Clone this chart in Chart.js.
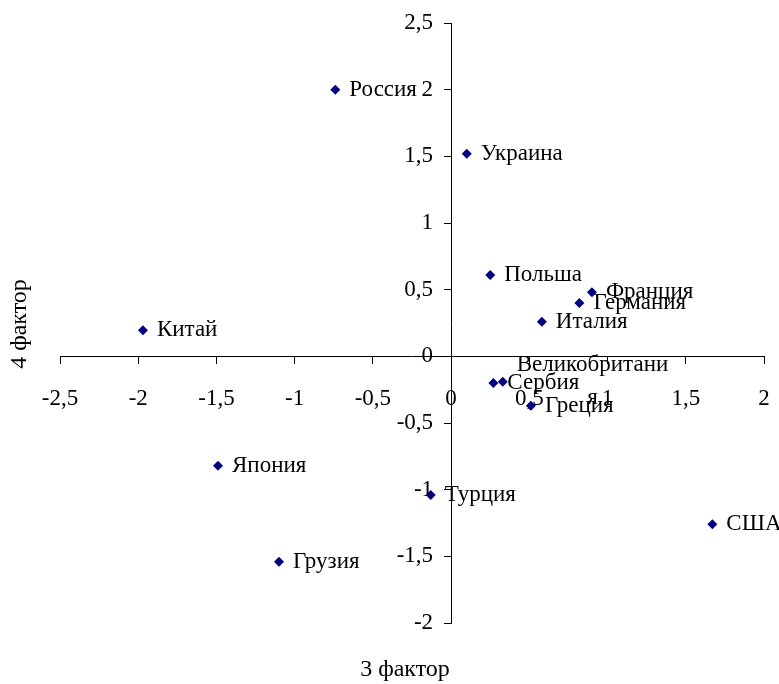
<!DOCTYPE html>
<html>
<head>
<meta charset="utf-8">
<script src="https://cdn.jsdelivr.net/npm/chart.js@4"></script>
<style>
  html, body { margin: 0; padding: 0; background: #fff; }
  #wrap { width: 779px; height: 684px; position: relative; }
</style>
</head>
<body>
<div id="wrap"><canvas id="factorChart"></canvas></div>
<script>
    // countries and their scores on factors 3 and 4
    var countries = ['Россия', 'Украина', 'Польша', 'Франция', 'Германия', 'Италия', 'Китай',
        'Великобритани\nя', 'Сербия', 'Греция', 'Япония', 'Турция', 'США', 'Грузия'];
    var factor3 = [-0.74, 0.10, 0.25, 0.90, 0.82, 0.58, -1.97, 0.33, 0.27, 0.51, -1.49, -0.13, 1.67, -1.10];
    var factor4 = [2.00, 1.52, 0.61, 0.48, 0.40, 0.26, 0.195, -0.19, -0.20, -0.37, -0.82, -1.04, -1.26, -1.54];

    var xTicks = [-2.5, -2, -1.5, -1, -0.5, 0, 0.5, 1, 1.5, 2];
    var yTicks = [-2, -1.5, -1, -0.5, 0, 0.5, 1, 1.5, 2, 2.5];

    var serif = '"Liberation Serif", "Times New Roman", serif';

    function commaLabel(v) {
        return String(v).replace('.', ',');
    }

    var points = factor3.map(function (x, i) {
        return { x: x, y: factor4[i] };
    });

    // country names written to the right of each marker
    var pointNames = {
        id: 'pointNames',
        afterDatasetsDraw: function (chart) {
            var ctx = chart.ctx;
            var meta = chart.getDatasetMeta(0);
            ctx.save();
            ctx.font = '23px ' + serif;
            ctx.fillStyle = '#000';
            ctx.textBaseline = 'middle';
            ctx.textAlign = 'center';
            meta.data.forEach(function (pt, i) {
                var lines = countries[i].split('\n');
                var w = Math.max.apply(null, lines.map(function (l) { return ctx.measureText(l).width; }));
                var lh = 33;
                var top = pt.y - (lines.length - 1) * lh / 2;
                lines.forEach(function (l, j) {
                    ctx.fillText(l, pt.x + 14 + w / 2, top + j * lh);
                });
            });
            ctx.restore();
        }
    };

    // y tick labels sit left of the crossing axis, clear of the tick marks
    var yTickLabels = {
        id: 'yTickLabels',
        afterDraw: function (chart) {
            var ctx = chart.ctx;
            var xs = chart.scales.x, ys = chart.scales.y;
            var x0 = xs.getPixelForValue(0);
            ctx.save();
            ctx.font = '23px ' + serif;
            ctx.fillStyle = '#000';
            ctx.textAlign = 'right';
            ctx.textBaseline = 'middle';
            ys.ticks.forEach(function (t) {
                ctx.fillText(commaLabel(t.value), x0 - 18, ys.getPixelForValue(t.value));
            });
            ctx.restore();
        }
    };

    // axis titles
    var axisTitles = {
        id: 'axisTitles',
        afterDraw: function (chart) {
            var ctx = chart.ctx;
            ctx.save();
            ctx.font = '24px ' + serif;
            ctx.fillStyle = '#000';
            ctx.textAlign = 'center';
            ctx.textBaseline = 'middle';
            ctx.fillText('3 фактор', 405, 670);
            ctx.translate(20, 324);
            ctx.rotate(-Math.PI / 2);
            ctx.fillText('4 фактор', 0, 0);
            ctx.restore();
        }
    };

    var ctx = document.getElementById('factorChart').getContext('2d');
    var factorChart = new Chart(ctx, {
        type: 'scatter',
        data: {
            datasets: [{
                data: points,
                pointStyle: 'rectRot',
                pointRadius: 5,
                pointHoverRadius: 5,
                backgroundColor: '#000080',
                borderColor: '#000080',
                borderWidth: 0
            }]
        },
        options: {
            responsive: true,
            maintainAspectRatio: false,
            animation: false,
            events: [],
            layout: {
                padding: { left: 60, right: 15, top: 23, bottom: 61 }
            },
            plugins: {
                legend: { display: false },
                tooltip: { enabled: false }
            },
            scales: {
                x: {
                    type: 'linear',
                    min: -2.5,
                    max: 2,
                    position: { y: 0 },
                    afterBuildTicks: function (scale) {
                        scale.ticks = xTicks.map(function (v) { return { value: v }; });
                    },
                    // end labels may overhang the plot edges
                    afterFit: function (scale) {
                        scale.paddingLeft = 0;
                        scale.paddingRight = 0;
                    },
                    border: { display: true, color: '#000', width: 1 },
                    grid: { drawOnChartArea: false, drawTicks: true, tickLength: 7, color: '#000' },
                    ticks: {
                        color: '#000',
                        font: { family: serif, size: 23 },
                        padding: 22,
                        maxRotation: 0,
                        autoSkip: false,
                        callback: commaLabel
                    }
                },
                y: {
                    type: 'linear',
                    min: -2,
                    max: 2.5,
                    position: { x: 0 },
                    afterBuildTicks: function (scale) {
                        scale.ticks = yTicks.map(function (v) { return { value: v }; });
                    },
                    border: { display: true, color: '#000', width: 1 },
                    grid: { drawOnChartArea: false, drawTicks: true, tickLength: 7, color: '#000' },
                    ticks: { display: false }
                }
            }
        },
        plugins: [pointNames, yTickLabels, axisTitles]
    });
</script>
</body>
</html>
